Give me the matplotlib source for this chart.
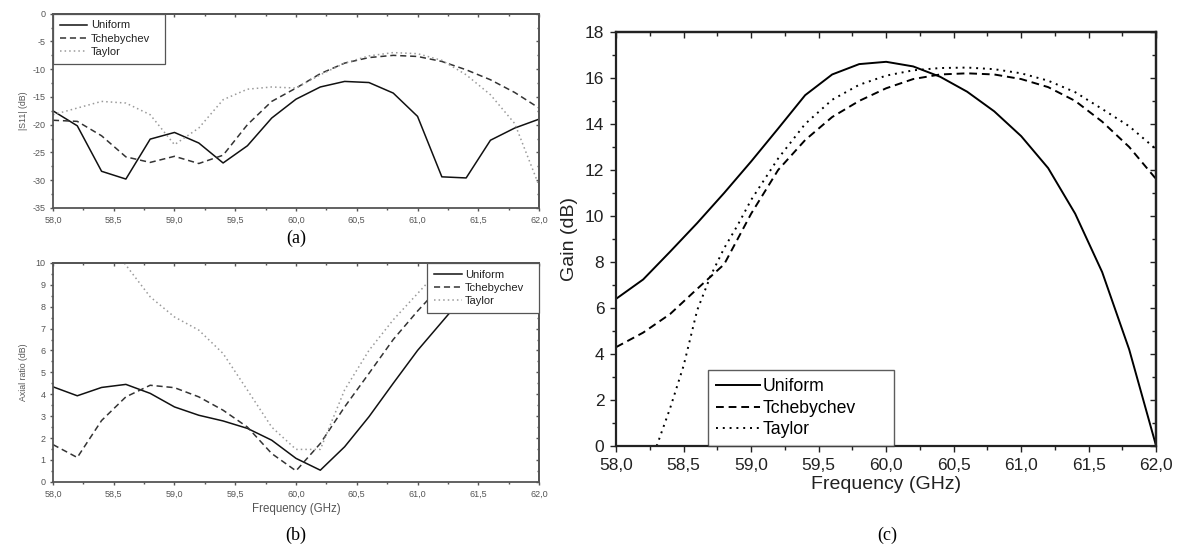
import numpy as np
import matplotlib
matplotlib.use("Agg")
import matplotlib.pyplot as plt
from matplotlib.ticker import MultipleLocator, FuncFormatter

plt.rcParams['font.family'] = ['Liberation Sans', 'DejaVu Sans']

# --- (a) |S11| data
f_a = [58.0, 58.2, 58.4, 58.6, 58.8, 59.0, 59.2, 59.4, 59.6, 59.8, 60.0,
       60.2, 60.4, 60.6, 60.8, 61.0, 61.2, 61.4, 61.6, 61.8, 62.0]
s11_uniform = [-17.5, -20.2, -28.4, -29.8, -22.6, -21.4, -23.3, -26.9, -23.8, -18.8, -15.4,
               -13.2, -12.2, -12.4, -14.3, -18.5, -29.4, -29.6, -22.8, -20.6, -19.0]
s11_tcheb = [-19.2, -19.4, -22.0, -25.8, -26.8, -25.7, -27.0, -25.5, -20.0, -15.8, -13.4,
             -10.8, -8.9, -7.9, -7.5, -7.7, -8.6, -10.1, -11.9, -14.2, -17.0]
s11_taylor = [-18.2, -17.0, -15.8, -16.1, -18.2, -23.6, -20.6, -15.5, -13.6, -13.2, -13.4,
              -11.0, -8.9, -7.6, -7.0, -7.2, -8.4, -11.0, -14.6, -19.8, -31.0]

# --- (b) axial ratio data
f_b = [58.0, 58.2, 58.4, 58.6, 58.8, 59.0, 59.2, 59.4, 59.6, 59.8, 60.0,
       60.2, 60.4, 60.6, 60.8, 61.0, 61.2, 61.4, 61.6, 61.8, 62.0]
ar_uniform = [4.34, 3.93, 4.31, 4.45, 4.04, 3.42, 3.04, 2.78, 2.44, 1.9, 1.07,
              0.53, 1.6, 2.97, 4.5, 6.0, 7.3, 8.6, 9.8, 11.0, 12.0]
ar_tcheb = [1.7, 1.11, 2.8, 3.88, 4.41, 4.3, 3.88, 3.27, 2.5, 1.29, 0.5,
            1.75, 3.42, 4.95, 6.5, 7.8, 9.0, 10.2, 11.2, 12.0, 12.8]
f_b_taylor = [58.4, 58.6, 58.8, 59.0, 59.2, 59.4, 59.6, 59.8, 60.0, 60.2, 60.4,
              60.6, 60.8, 61.0, 61.2, 61.4]
ar_taylor = [11.3, 9.9, 8.45, 7.53, 6.93, 5.86, 4.19, 2.5, 1.48, 1.48, 4.2,
             6.0, 7.4, 8.6, 9.8, 11.0]

# --- (c) gain data
f_c = [58.0, 58.2, 58.4, 58.6, 58.8, 59.0, 59.2, 59.4, 59.6, 59.8, 60.0,
       60.2, 60.4, 60.6, 60.8, 61.0, 61.2, 61.4, 61.6, 61.8, 62.0]
gain_uniform = [6.4, 7.24, 8.45, 9.69, 11.0, 12.37, 13.8, 15.25, 16.15, 16.6, 16.7,
                16.5, 16.05, 15.4, 14.55, 13.47, 12.08, 10.1, 7.56, 4.2, 0.0]
gain_tcheb = [4.3, 4.93, 5.74, 6.83, 7.9, 10.1, 12.0, 13.3, 14.3, 15.0, 15.55,
              15.95, 16.15, 16.2, 16.15, 15.95, 15.6, 15.0, 14.1, 13.0, 11.6]
f_c_taylor = [58.3, 58.4, 58.5, 58.6, 58.7, 58.8, 58.9, 59.0, 59.2, 59.4, 59.6, 59.8,
              60.0, 60.2, 60.4, 60.6, 60.8, 61.0, 61.2, 61.4, 61.6, 61.8, 62.0]
gain_taylor = [0.0, 1.65, 3.5, 5.9, 7.4, 8.6, 9.6, 10.7, 12.5, 14.0, 15.05, 15.7,
               16.1, 16.33, 16.43, 16.45, 16.38, 16.2, 15.88, 15.38, 14.65, 13.9, 12.9]

labels = ['Uniform', 'Tchebychev', 'Taylor']

comma = FuncFormatter(lambda v, p: ('%.1f' % v).replace('.', ','))
intfmt = FuncFormatter(lambda v, p: '%d' % v)


def origin_axes(ax, xmaj, xmin, ymaj, ymin, fs, col, tl, slw, pad):
    ax.xaxis.set_major_locator(MultipleLocator(xmaj))
    ax.xaxis.set_minor_locator(MultipleLocator(xmin))
    ax.yaxis.set_major_locator(MultipleLocator(ymaj))
    ax.yaxis.set_minor_locator(MultipleLocator(ymin))
    ax.xaxis.set_major_formatter(comma)
    ax.yaxis.set_major_formatter(intfmt)
    ax.tick_params(which='major', direction='out', length=tl, width=1, colors=col,
                   labelsize=fs, labelcolor=col, pad=pad)
    ax.tick_params(which='minor', direction='out', length=tl * 0.6, width=1, colors=col)
    # mirrored ticks pointing inwards
    top = ax.secondary_xaxis('top')
    top.xaxis.set_major_locator(MultipleLocator(xmaj))
    top.xaxis.set_minor_locator(MultipleLocator(xmin))
    top.tick_params(which='major', direction='in', length=tl, width=1, colors=col, labeltop=False)
    top.tick_params(which='minor', direction='in', length=tl * 0.6, width=1, colors=col)
    right = ax.secondary_yaxis('right')
    right.yaxis.set_major_locator(MultipleLocator(ymaj))
    right.yaxis.set_minor_locator(MultipleLocator(ymin))
    right.tick_params(which='major', direction='in', length=tl, width=1, colors=col, labelright=False)
    right.tick_params(which='minor', direction='in', length=tl * 0.6, width=1, colors=col)
    for sp in list(ax.spines.values()) + [top.spines['top'], right.spines['right']]:
        sp.set_color(col)
        sp.set_linewidth(slw)


def small_legend(ax, anchor):
    leg = ax.legend(loc='upper left', bbox_to_anchor=anchor, mode='expand', fontsize=8,
                    frameon=True, fancybox=False, handlelength=2.5, handletextpad=0.3,
                    borderpad=0.6, labelspacing=0.3, borderaxespad=0, framealpha=1)
    leg.get_frame().set_edgecolor(gray)
    leg.get_frame().set_linewidth(0.9)
    for t in leg.get_texts():
        t.set_color('#222222')
    return leg


fig = plt.figure(figsize=(11.77, 5.5), dpi=100)

gray = '#555555'

# (a)
ax1 = fig.add_axes([0.045, 0.622, 0.413, 0.353])
ax1.plot(f_a, s11_uniform, color='#111111', lw=1.1, label=labels[0])
ax1.plot(f_a, s11_tcheb, color='#333333', lw=1.1, ls=(0, (4, 2.5)), label=labels[1])
ax1.plot(f_a, s11_taylor, color='#9a9a9a', lw=1.1, ls=(0, (1, 2)), label=labels[2])
ax1.set_xlim(58, 62)
ax1.set_ylim(-35, 0)
ax1.set_ylabel('|S11| (dB)', fontsize=6.3, color=gray, labelpad=3)
origin_axes(ax1, 0.5, 0.25, 5, 2.5, 6.5, gray, 2.5, 1.3, 3)
small_legend(ax1, (0, 0.72, 0.23, 0.28))
fig.text(0.2515, 0.566, '(a)', family='Liberation Serif', fontsize=13, ha='center', va='center')

# (b)
ax2 = fig.add_axes([0.045, 0.124, 0.413, 0.398])
ax2.plot(f_b, ar_uniform, color='#111111', lw=1.1, label=labels[0])
ax2.plot(f_b, ar_tcheb, color='#333333', lw=1.1, ls=(0, (4, 2.5)), label=labels[1])
ax2.plot(f_b_taylor, ar_taylor, color='#9a9a9a', lw=1.1, ls=(0, (1, 2)), label=labels[2])
ax2.set_xlim(58, 62)
ax2.set_ylim(0, 10)
ax2.set_ylabel('Axial ratio (dB)', fontsize=6.3, color=gray, labelpad=5)
ax2.set_xlabel('Frequency (GHz)', fontsize=8.3, color=gray, labelpad=3)
origin_axes(ax2, 0.5, 0.25, 1, 0.5, 6.5, gray, 2.5, 1.3, 3)
small_legend(ax2, (0.77, 1.0, 0.23, 0.0))
fig.text(0.2515, 0.027, '(b)', family='Liberation Serif', fontsize=13, ha='center', va='center')

# (c)
ax3 = fig.add_axes([0.5235, 0.189, 0.4588, 0.753])
ax3.plot(f_c, gain_uniform, color='black', lw=1.4, label=labels[0])
ax3.plot(f_c, gain_tcheb, color='black', lw=1.4, ls=(0, (4, 2.5)), label=labels[1])
ax3.plot(f_c_taylor, gain_taylor, color='black', lw=1.4, ls=(0, (1, 2.5)), label=labels[2])
ax3.set_xlim(58, 62)
ax3.set_ylim(0, 18)
ax3.set_ylabel('Gain (dB)', fontsize=14, color='#222222', labelpad=5)
ax3.set_xlabel('Frequency (GHz)', fontsize=14, color='#222222', labelpad=2)
origin_axes(ax3, 0.5, 0.25, 2, 1, 12.5, '#222222', 4.5, 1.6, 4)
leg3 = ax3.legend(loc='lower left', bbox_to_anchor=(0.17, 0.0, 0.345, 0.21), mode='expand',
                  fontsize=12.7, frameon=True, fancybox=False, handlelength=2.5,
                  handletextpad=0.15, borderpad=0.45, labelspacing=0.25, borderaxespad=0)
leg3.get_frame().set_edgecolor('#333333')
leg3.get_frame().set_linewidth(1.0)
fig.text(0.7535, 0.027, '(c)', family='Liberation Serif', fontsize=13, ha='center', va='center')

fig.savefig('out.png', dpi=100, facecolor='white')
